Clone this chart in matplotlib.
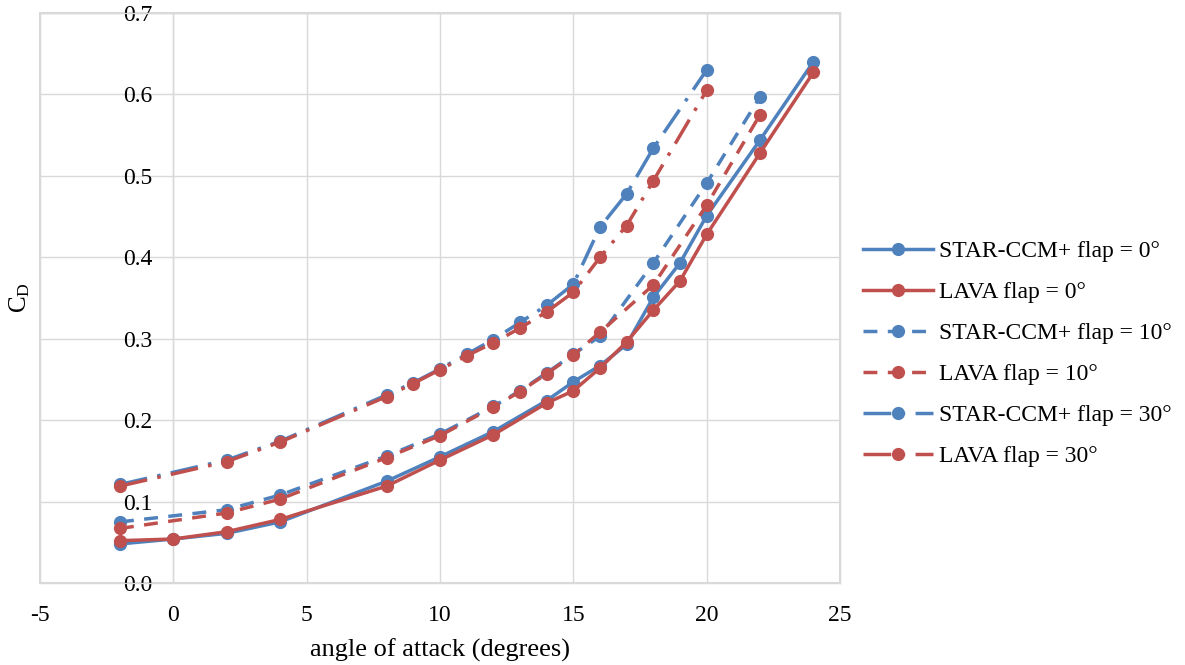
import matplotlib
matplotlib.use("Agg")
import matplotlib.pyplot as plt

# ---- data ----
aoa_flap0 = [-2, 0, 2, 4, 8, 10, 12, 14, 15, 16, 17, 18, 19, 20, 22, 24]
star_flap0 = [0.048, 0.054, 0.061, 0.075, 0.125, 0.155, 0.186, 0.224, 0.247, 0.267, 0.293, 0.351, 0.393, 0.451, 0.544, 0.640]
lava_flap0 = [0.052, 0.054, 0.063, 0.078, 0.119, 0.151, 0.182, 0.221, 0.236, 0.264, 0.296, 0.335, 0.371, 0.428, 0.528, 0.627]

aoa_flap10 = [-2, 2, 4, 8, 10, 12, 13, 14, 15, 16, 18, 20, 22]
star_flap10 = [0.075, 0.090, 0.108, 0.156, 0.183, 0.217, 0.236, 0.258, 0.281, 0.303, 0.393, 0.491, 0.597]
lava_flap10 = [0.067, 0.086, 0.103, 0.154, 0.181, 0.216, 0.235, 0.257, 0.280, 0.308, 0.366, 0.464, 0.575]

aoa_flap30 = [-2, 2, 4, 8, 9, 10, 11, 12, 13, 14, 15, 16, 17, 18, 20]
star_flap30 = [0.121, 0.151, 0.174, 0.231, 0.246, 0.263, 0.281, 0.299, 0.320, 0.341, 0.367, 0.437, 0.478, 0.534, 0.630]
lava_flap30 = [0.119, 0.149, 0.173, 0.229, 0.245, 0.262, 0.279, 0.295, 0.313, 0.333, 0.357, 0.400, 0.439, 0.494, 0.605]

labels = ["STAR-CCM+ flap = 0°", "LAVA flap = 0°",
          "STAR-CCM+ flap = 10°", "LAVA flap = 10°",
          "STAR-CCM+ flap = 30°", "LAVA flap = 30°"]
x_ticks = [-5, 0, 5, 10, 15, 20, 25]
y_ticks = [0.0, 0.1, 0.2, 0.3, 0.4, 0.5, 0.6, 0.7]

# ---- style ----
plt.rcParams['font.family'] = ['Liberation Serif', 'DejaVu Serif']
plt.rcParams['mathtext.default'] = 'regular'
BLUE = '#4F81BD'
RED = '#C0504D'
GRID = '#d9d9d9'
LW = 2.5
MS = 9.5
FS = 17

fig = plt.figure(figsize=(11.85, 6.65), dpi=100)
ax = fig.add_axes([40/1185, 1-583/665, 800/1185, 570/665])

series = [
    (aoa_flap0, star_flap0, BLUE, '-'),
    (aoa_flap0, lava_flap0, RED, '-'),
    (aoa_flap10, star_flap10, BLUE, (0, (4, 3))),
    (aoa_flap10, lava_flap10, RED, (0, (4, 3))),
    (aoa_flap30, star_flap30, BLUE, (0, (8, 3, 1, 3))),
    (aoa_flap30, lava_flap30, RED, (0, (8, 3, 1, 3))),
]
for (xs, ys, c, ls), lab in zip(series, labels):
    ax.plot(xs, ys, color=c, linestyle=ls, linewidth=LW, marker='o',
            markersize=MS, markeredgewidth=0, label=lab, clip_on=False, zorder=3)

ax.set_xlim(-5, 25)
ax.set_ylim(0, 0.7)
ax.set_xticks(x_ticks)
ax.set_yticks(y_ticks)
ax.set_xticklabels([str(v) for v in x_ticks])
ax.set_yticklabels([f"{v:.1f}" for v in y_ticks])
ax.grid(True, color=GRID, linewidth=1.0, zorder=0)
ax.set_axisbelow(True)

for s in ['top', 'right', 'bottom']:
    ax.spines[s].set_color(GRID)
    ax.spines[s].set_linewidth(1.0)
ax.spines['left'].set_position(('data', 0))
ax.spines['left'].set_color(GRID)
ax.spines['left'].set_linewidth(1.0)
ax.patch.set_edgecolor(GRID)
ax.patch.set_linewidth(1.5)

ax.tick_params(axis='both', length=0, labelsize=FS, colors='#000000')
ax.tick_params(axis='y', pad=15)
ax.tick_params(axis='x', pad=16)

ax.set_xlabel('angle of attack (degrees)', fontsize=19, labelpad=9)
ax.set_ylabel(r'C$_{D}$', fontsize=18)
ax.yaxis.set_label_coords(-0.010, 0.5)

leg = ax.legend(loc='center left', bbox_to_anchor=(1.017, 0.402), frameon=False,
                fontsize=FS, handlelength=2.95, handletextpad=0.25,
                labelspacing=0.83, borderaxespad=0)

fig.savefig('out.png', dpi=100, facecolor='white')
